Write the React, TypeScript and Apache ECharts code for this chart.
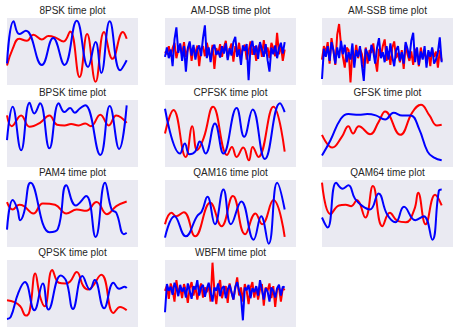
import React, { useEffect, useRef } from "react";
import * as echarts from "echarts";

// ---- data: [sample index, amplitude] ----
const psk8Red = [[0,-21],[6,4],[13,19],[21,16],[28,25],[37,18],[44,23],[51,21],[60,15],[67,30],[77,-38],[85,26],[94,-45],[103,29],[112,-11],[123,29],[127,19]];
const psk8Blue = [[0,-18],[7,45],[13,26],[20,31],[37,-20],[49,20],[61,-20],[74,46],[86,-23],[94,14],[100,-32],[109,45],[120,-28],[127,-13]];

const amDsbRed = [0,-4,8,-7,5,13,-10,3,10,-5,14,-8,3,12,-14,6,-3,9,-22,4,8,-7,13,1,-12,10,-26,5,-4,11,-8,6,16,-10,3,12,-15,8,-3,13,-7,5,10,-12,1,15,-5,8,-14,4,12,-8,17,-3,6,-10,13,5,-7,28,-4,10,-14,3];
const amDsbBlue = [-8,6,-10,3,-22,18,36,-2,12,-14,8,-30,5,15,-6,10,-12,3,9,-7,20,39,-10,6,-16,4,10,-5,1,-9,8,-3,12,-13,5,-6,14,22,-8,3,-20,9,1,11,-43,6,16,-5,9,-11,14,3,-8,11,-13,-30,6,-4,9,-10,5,13,-3,14];

const amSsbRed = [-12,8,-2,14,-18,20,2,-20,25,41,10,-8,-24,6,2,-46,1,-14,10,-10,4,-4,-25,6,-18,2,-2,12,-12,-30,4,-8,8,18,-14,0,-20,6,15,-10,-2,-16,2,-26,10,-4,-14,0,-20,4,-2,-22,6,-10,2,-16,-1,-22,4,-8,0,-24,2,-14];
const amSsbBlue = [-41,4,-8,8,-14,14,2,-18,6,-10,16,-4,10,-16,-1,-12,12,-24,2,-8,8,-20,-44,4,-3,-14,10,0,-18,6,20,-10,-1,-16,8,-12,12,-8,-22,2,8,-14,-1,-18,14,4,-10,16,28,-16,6,-20,0,-12,8,-24,2,-8,6,-18,-12,-1,21,-16];

const bpskRed = [[0,27],[5,11],[15,27],[24,10],[35,16],[45,27],[53,13],[61,12],[68,14],[76,12],[83,15],[89,11],[99,28],[108,12],[116,27],[127,16]];
const bpskBlue = [[0,-10],[6,40],[15,-25],[24,46],[29,30],[35,45],[45,-22],[55,45],[61,32],[67,38],[72,31],[77,37],[83,42],[99,-32],[109,41],[119,-23],[127,42]];

const cpfskRed = [[0,0],[9,35],[22,-35],[29,11],[34,-25],[41,-7],[51,40],[66,-32],[71,-20],[76,-35],[83,-21],[89,-40],[93,-20],[99,-35],[115,40],[127,-27]];
const cpfskBlue = [[0,37],[16,-30],[21,-15],[26,-31],[32,-27],[37,-12],[43,-30],[53,15],[62,-30],[76,38],[84,-5],[93,36],[106,-38],[122,45],[127,32]];

const gfskRed = [[0,-2],[11,-21],[21,-5],[28,11],[33,0],[39,11],[51,-1],[60,17],[67,33],[83,-2],[96,32],[105,43],[114,27],[122,12],[127,13]];
const gfskBlue = [[0,-33],[9,-10],[20,22],[28,29],[39,28],[48,29],[57,27],[67,21],[76,31],[85,27],[94,27],[103,7],[112,-27],[119,-36],[127,-40]];

const pam4Red = [[0,17],[6,6],[13,13],[18,11],[28,0],[38,15],[51,13],[63,0],[74,6],[84,4],[95,17],[106,-1],[116,11],[127,18]];
const pam4Blue = [[0,-24],[6,20],[11,7],[14,-10],[18,1],[25,46],[45,-28],[54,-23],[63,42],[73,12],[84,26],[94,-35],[104,46],[111,6],[116,1],[124,-31],[127,-29]];

const qam16Red = [[0,-16],[7,1],[12,-4],[20,2],[32,-34],[48,16],[60,-19],[72,26],[85,-31],[96,0],[103,-16],[115,20],[127,-35]];
const qam16Blue = [[0,-36],[10,-4],[22,-34],[34,-4],[39,3],[45,25],[53,-16],[62,36],[70,-16],[81,18],[94,-39],[102,-4],[110,-45],[119,46],[127,6]];

const qam64Red = [[0,46],[9,-1],[18,12],[25,13],[31,11],[37,20],[46,-6],[54,41],[64,-19],[72,1],[80,-11],[89,-13],[98,6],[102,31],[110,-16],[120,28],[127,12]];
const qam64Blue = [[0,-6],[6,-21],[15,46],[22,37],[28,42],[35,22],[43,11],[51,6],[60,30],[69,-1],[78,-13],[87,10],[99,-10],[108,-4],[117,-39],[124,34],[127,36]];

const qpskRed = [[0,-10],[8,-13],[14,-19],[20,-33],[24,-26],[30,30],[35,-4],[40,-19],[48,35],[55,16],[62,15],[67,18],[74,32],[81,11],[86,6],[100,28],[113,-29],[120,-20],[127,-25]];
const qpskBlue = [[0,-38],[4,-35],[12,1],[19,17],[29,-25],[38,15],[44,-24],[57,27],[63,18],[70,-23],[80,26],[88,6],[93,20],[103,-22],[113,16],[119,7],[125,10],[127,8]];

const wbfmRed = [4,12,-8,15,6,-12,20,1,9,-7,14,4,-14,8,17,-3,11,-9,6,15,-6,9,2,14,-12,46,4,-16,9,20,-7,6,11,-14,15,2,-9,8,24,-3,9,-12,14,4,-16,8,17,-6,10,-9,6,14,-18,9,4,15,-7,11,-20,6,9,-12,8,5];
const wbfmBlue = [-28,14,4,10,-2,16,8,-4,13,3,9,-6,15,4,-8,11,6,20,-3,9,13,-5,7,16,2,-12,9,4,15,-4,8,11,-7,6,13,2,-9,10,17,4,-5,-40,9,5,13,-7,8,2,11,-3,20,6,-9,8,3,-12,9,4,-6,8,13,-3,10,9];

const LAST_SAMPLE = 127;
const toPairs = (vals: number[]) => vals.map((v, i) => [(i * LAST_SAMPLE) / (vals.length - 1), v]);

const PANELS = [
  { title: "8PSK time plot", red: psk8Red, blue: psk8Blue, smooth: true },
  { title: "AM-DSB time plot", red: toPairs(amDsbRed), blue: toPairs(amDsbBlue), smooth: false },
  { title: "AM-SSB time plot", red: toPairs(amSsbRed), blue: toPairs(amSsbBlue), smooth: false },
  { title: "BPSK time plot", red: bpskRed, blue: bpskBlue, smooth: true },
  { title: "CPFSK time plot", red: cpfskRed, blue: cpfskBlue, smooth: true },
  { title: "GFSK time plot", red: gfskRed, blue: gfskBlue, smooth: true },
  { title: "PAM4 time plot", red: pam4Red, blue: pam4Blue, smooth: true },
  { title: "QAM16 time plot", red: qam16Red, blue: qam16Blue, smooth: true },
  { title: "QAM64 time plot", red: qam64Red, blue: qam64Blue, smooth: true },
  { title: "QPSK time plot", red: qpskRed, blue: qpskBlue, smooth: true },
  { title: "WBFM time plot", red: toPairs(wbfmRed), blue: toPairs(wbfmBlue), smooth: false },
];

const COL_LEFT = [7, 165, 322];
const ROW_TOP = [18, 100, 180, 260];
const W = 131;
const H = 67;

export default function App() {
  const ref = useRef<HTMLDivElement>(null);
  useEffect(() => {
    const chart = echarts.init(ref.current!, null, { renderer: "svg" });
    const grid: any[] = [];
    const xAxis: any[] = [];
    const yAxis: any[] = [];
    const series: any[] = [];
    const graphic: any[] = [];
    PANELS.forEach((p, i) => {
      const left = COL_LEFT[i % 3];
      const top = ROW_TOP[Math.floor(i / 3)];
      grid.push({ left, top, width: W, height: H, show: true, backgroundColor: "#EAEAF2", borderWidth: 0 });
      xAxis.push({ type: "value", gridIndex: i, min: 0, max: 139, show: false });
      yAxis.push({ type: "value", gridIndex: i, min: -50, max: 50, show: false });
      const common = { type: "line", xAxisIndex: i, yAxisIndex: i, showSymbol: false, smooth: p.smooth ? 0.45 : false, silent: true };
      series.push({ ...common, data: p.red, lineStyle: { color: "#ff0000", width: 2 }, itemStyle: { color: "#ff0000" } });
      series.push({ ...common, data: p.blue, lineStyle: { color: "#0000ff", width: 2 }, itemStyle: { color: "#0000ff" } });
      graphic.push({
        type: "text",
        x: left + W / 2,
        y: top - 8,
        style: { text: p.title, fill: "#262626", font: '10px "Liberation Sans", Arial, sans-serif', align: "center", verticalAlign: "middle" },
      });
    });
    chart.setOption({ animation: false, backgroundColor: "#ffffff", grid, xAxis, yAxis, series, graphic });
    return () => chart.dispose();
  }, []);
  return <div ref={ref} style={{ position: "fixed", left: 0, top: 0, width: 460, height: 334 }} />;
}
